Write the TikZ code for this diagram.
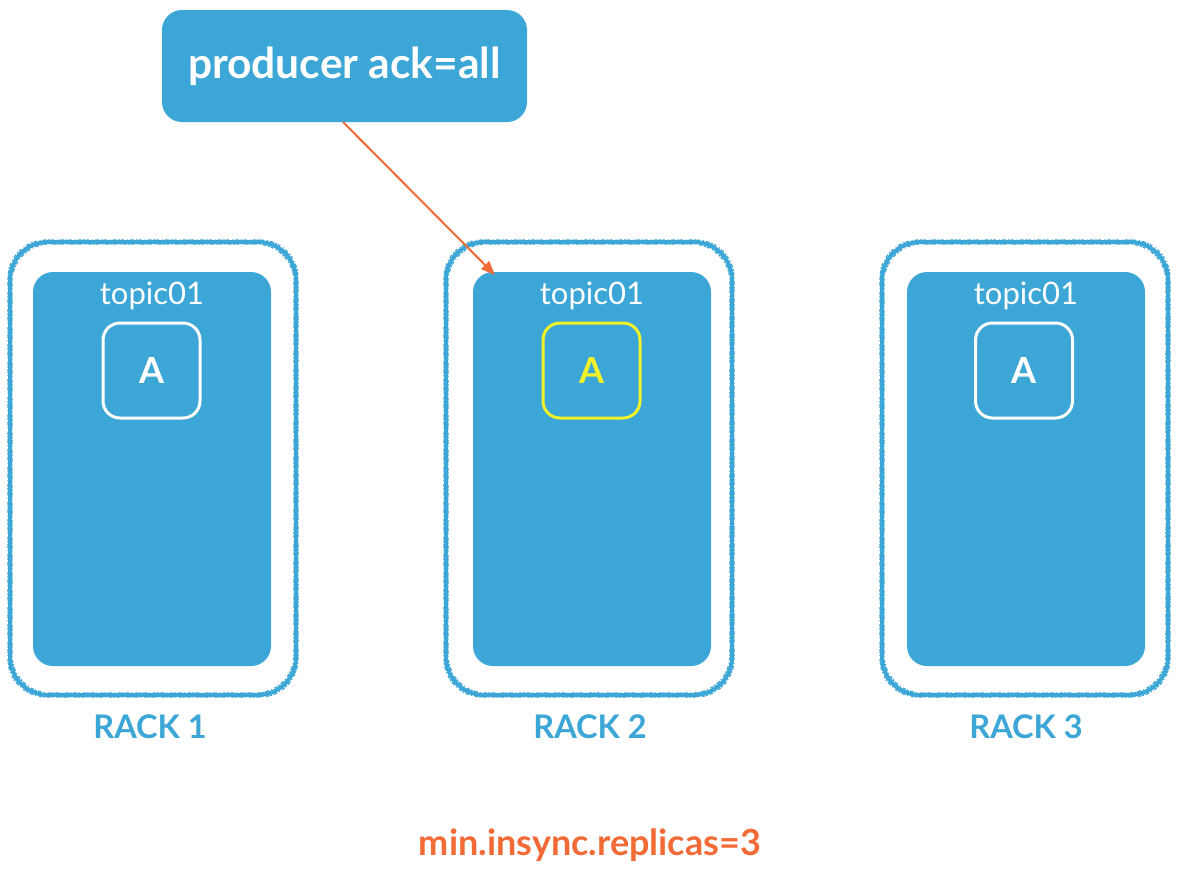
\documentclass[tikz,border=0pt]{standalone}
\usepackage{fontspec}
\setmainfont{Lato}
\usetikzlibrary{arrows.meta}
\definecolor{kblue}{HTML}{3CA6D7}
\definecolor{kyellow}{HTML}{F2F22A}
\definecolor{korange}{HTML}{F26A35}
\tikzset{
  rackouter/.style={draw=kblue,line width=4pt,rounded corners=38pt},
  rackfuzz/.style={draw=kblue,line width=1.2pt,rounded corners=38pt,
    dash pattern=on 2pt off 1.5pt on 4pt off 2pt on 1pt off 3pt on 3pt off 1pt},
  rackinner/.style={fill=kblue,rounded corners=20pt},
  partbox/.style={draw=white,line width=3pt,rounded corners=17pt,minimum width=97pt,minimum height=95pt,
    font=\fontsize{36}{40}\selectfont\bfseries,text=white},
  topiclabel/.style={font=\fontsize{31}{34}\selectfont,text=white},
  racklabel/.style={font=\fontsize{32.5}{36}\selectfont\bfseries,text=kblue},
}
\begin{document}
\begin{tikzpicture}[x=1pt,y=-1pt]
\useasboundingbox (0,0) rectangle (1182,876);
% producer
\fill[kblue,rounded corners=20pt] (162,10) rectangle (527,122);
\node[font=\fontsize{42.5}{46}\selectfont\bfseries,text=white] (prod) at (344.5,66) {producer ack=all};
\coordinate (prodbot) at (343,122);
% racks
\foreach \xo/\xi in {10/33, 446/473, 882/907}{
  \draw[rackouter] (\xo,242) rectangle ++(286,453);
  \draw[rackfuzz] (\xo-2,240) rectangle ++(290,457);
  \draw[rackfuzz,dash phase=3pt] (\xo+2,244) rectangle ++(282,449);
  \fill[rackinner] (\xi,272) rectangle ++(238,394);
}
\node[topiclabel] (t1) at (152,296) {topic01};
\node[topiclabel] (t2) at (592,296) {topic01};
\node[topiclabel] (t3) at (1026,296) {topic01};
\node[partbox] (a1) at (151.5,370.5) {A};
\node[partbox,draw=kyellow,text=kyellow] (a2) at (591.5,370.5) {A};
\node[partbox] (a3) at (1024,370.5) {A};
\coordinate (in2) at (495,275);
\node[racklabel] (r1) at (150,727) {RACK 1};
\node[racklabel] (r2) at (590,727) {RACK 2};
\node[racklabel] (r3) at (1026,727) {RACK 3};
\node[font=\fontsize{36}{40}\selectfont\bfseries,text=korange] (minisr) at (590,845) {min.insync.replicas=3};
\draw[korange,line width=2pt,-{Triangle[length=14pt,width=11pt]}] (prodbot) -- (in2);
\end{tikzpicture}
\end{document}
